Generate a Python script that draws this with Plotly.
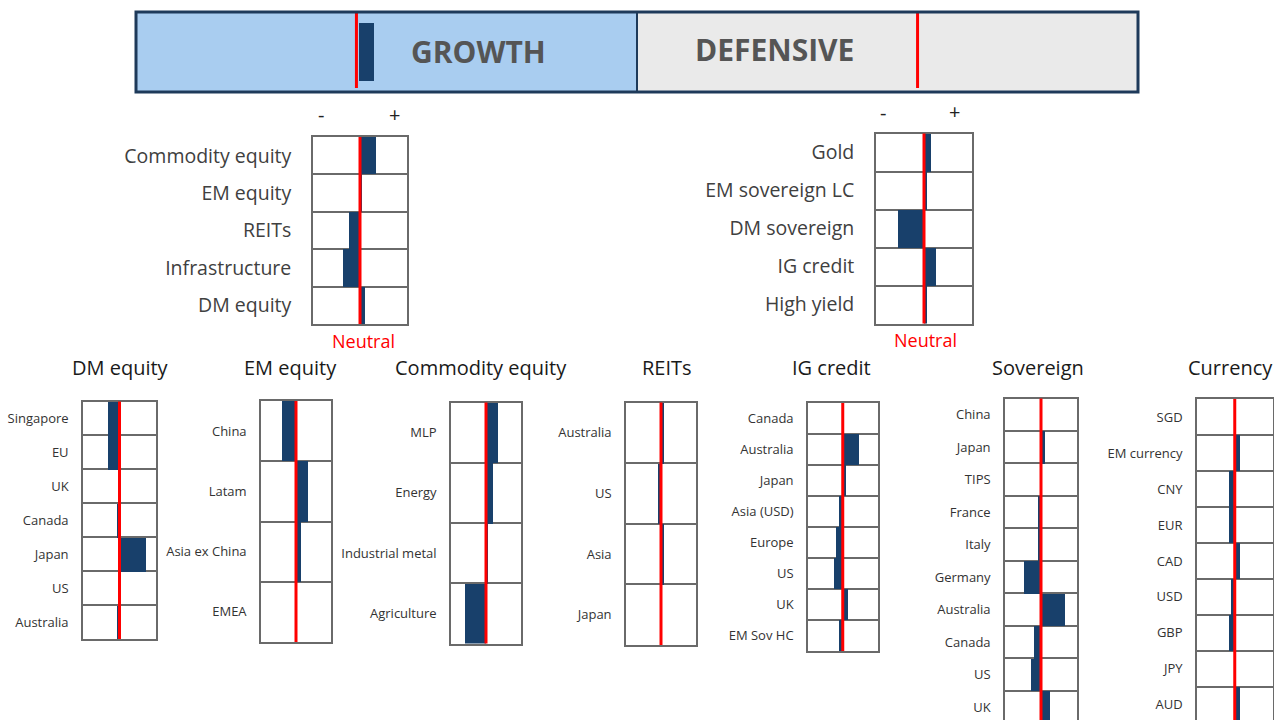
import plotly.graph_objects as go

W, H = 1274, 720

# ---------------- data ----------------
banner_sections = ["GROWTH", "DEFENSIVE"]
banner_neutral = [0.44, 1.56]          # neutral marker position in each half (0-1 growth, 1-2 defensive)
growth_tilt = 0.03                     # tilt of the growth bar in banner units

growth_cats = ["Commodity equity", "EM equity", "REITs", "Infrastructure", "DM equity"]
growth_vals = [0.33, 0.05, -0.23, -0.36, 0.11]

def_cats = ["Gold", "EM sovereign LC", "DM sovereign", "IG credit", "High yield"]
def_vals = [0.14, 0.07, -0.54, 0.26, 0.07]

dm_cats = ["Singapore", "EU", "UK", "Canada", "Japan", "US", "Australia"]
dm_vals = [-0.31, -0.31, 0.0, -0.07, 0.72, 0.0, -0.07]

em_cats = ["China", "Latam", "Asia ex China", "EMEA"]
em_vals = [-0.40, 0.34, 0.14, 0.0]

com_cats = ["MLP", "Energy", "Industrial metal", "Agriculture"]
com_vals = [0.33, 0.20, 0.07, -0.59]

reit_cats = ["Australia", "US", "Asia", "Japan"]
reit_vals = [0.09, -0.10, 0.09, 0.0]

ig_cats = ["Canada", "Australia", "Japan", "Asia (USD)", "Europe", "US", "UK", "EM Sov HC"]
ig_vals = [0.0, 0.48, 0.08, -0.11, -0.19, -0.24, 0.15, -0.11]

sov_cats = ["China", "Japan", "TIPS", "France", "Italy", "Germany", "Australia", "Canada", "US", "UK"]
sov_vals = [0.0, 0.11, 0.0, -0.08, -0.08, -0.46, 0.67, -0.20, -0.28, 0.25]

cur_cats = ["SGD", "EM currency", "CNY", "EUR", "CAD", "USD", "GBP", "JPY", "AUD"]
cur_vals = [0.0, 0.13, -0.15, -0.15, 0.13, -0.09, -0.15, 0.0, 0.13]

# ---------------- style ----------------
NAVY = "#18406B"
RED = "#FF0000"
GRID = "#6a6a6a"
FONT = "Open Sans"

fig = go.Figure()
layout = dict(width=W, height=H, margin=dict(l=0, r=0, t=0, b=0),
              paper_bgcolor="white", plot_bgcolor="white", showlegend=False,
              shapes=[], annotations=[], bargap=0)


def fx(p):
    return p / W


def fy(p):
    return 1 - p / H


# ---------------- banner ----------------
layout["xaxis"] = dict(domain=[fx(136), fx(1138)], range=[0, 2], visible=False, fixedrange=True)
layout["yaxis"] = dict(domain=[fy(92), fy(12)], range=[0, 1], visible=False, fixedrange=True)
bg = ["#A9CDF0", "#EAEAEA"]
for i, sec in enumerate(banner_sections):
    layout["shapes"].append(dict(type="rect", xref="x", yref="y", x0=i, x1=i + 1, y0=0, y1=1,
                                 fillcolor=bg[i], line=dict(width=0), layer="below"))
fig.add_trace(go.Bar(x=[growth_tilt], y=[0.5], base=[banner_neutral[0] + 0.006], orientation="h",
                     width=0.72, marker=dict(color=NAVY, line=dict(width=0)),
                     xaxis="x", yaxis="y", hoverinfo="skip"))
layout["shapes"].append(dict(type="line", xref="x", yref="y", x0=1, x1=1, y0=0, y1=1,
                             line=dict(color="#1E3A5A", width=2), layer="above"))
for nv in banner_neutral:
    layout["shapes"].append(dict(type="line", xref="x", yref="y", x0=nv, x1=nv, y0=0.05, y1=1,
                                 line=dict(color=RED, width=3), layer="above"))
layout["shapes"].append(dict(type="rect", xref="x domain", yref="y domain", x0=0, x1=1, y0=0, y1=1,
                             line=dict(color="#1E3A5A", width=3), layer="above"))
for txt, x, y in [("GROWTH", 478, 52), ("DEFENSIVE", 774, 50)]:
    layout["annotations"].append(dict(text=f"<b>{txt}</b>", x=fx(x), y=fy(y), xref="paper", yref="paper",
                                      xanchor="center", yanchor="middle", showarrow=False,
                                      font=dict(family=FONT, size=30, color="#555555")))

# ---------------- panels ----------------
# (cats, vals, x0, x1, y0, y1(px), row-range-end, fontsize, fontcolor, standoff, cut)
panels = [
    (growth_cats, growth_vals, 313, 407, 137, 324, None, 19.5, "#404040", 16, False),
    (def_cats, def_vals, 876, 972, 133.5, 323.5, None, 19.5, "#404040", 16, False),
    (dm_cats, dm_vals, 83, 156, 401.5, 639, None, 13, "#333333", 10, False),
    (em_cats, em_vals, 261, 331, 401, 642, None, 13, "#333333", 10, False),
    (com_cats, com_vals, 451, 521, 402.5, 643.5, None, 13, "#333333", 10, False),
    (reit_cats, reit_vals, 626, 696, 402.5, 645, None, 13, "#333333", 10, False),
    (ig_cats, ig_vals, 808, 877.5, 403, 651, None, 13, "#333333", 10, False),
    (sov_cats, sov_vals, 1005, 1077, 398.5, 720, 9.4, 13, "#333333", 10, True),
    (cur_cats, cur_vals, 1197, 1272.5, 399, 720, 8.42, 13, "#333333", 10, True),
]

for k, (cats, vals, x0, x1, y0, y1, rend, fs, fc, so, cut) in enumerate(panels, start=2):
    n = len(cats)
    top = n - 0.5 if rend is None else rend
    layout[f"xaxis{k}"] = dict(domain=[fx(x0), fx(x1)], range=[-1, 1], anchor=f"y{k}",
                               showticklabels=False, showgrid=False, zeroline=False, ticks="",
                               showline=True, mirror=(not cut), side=("top" if cut else "bottom"),
                               linecolor=GRID, linewidth=1.6, fixedrange=True)
    layout[f"yaxis{k}"] = dict(domain=[fy(y1), fy(y0)], range=[top, -0.5], anchor=f"x{k}",
                               tickmode="array", tickvals=list(range(n)), ticktext=cats,
                               ticks="", showgrid=False, zeroline=False,
                               showline=True, mirror=True, linecolor=GRID, linewidth=1.6,
                               ticklabelstandoff=so,
                               tickfont=dict(family=FONT, size=fs, color=fc),
                               minor=dict(tickmode="array", tickvals=[i + 0.5 for i in range(n - 1)],
                                          showgrid=True, gridcolor=GRID, gridwidth=1.6, ticks=""),
                               fixedrange=True)
    fig.add_trace(go.Bar(x=vals, y=list(range(n)), orientation="h", width=1,
                         marker=dict(color=NAVY, line=dict(width=0)),
                         xaxis=f"x{k}", yaxis=f"y{k}", hoverinfo="skip"))
    layout["shapes"].append(dict(type="line", xref=f"x{k}", yref=f"y{k} domain", x0=0, x1=0, y0=0, y1=1,
                                 line=dict(color=RED, width=3), layer="above"))

# ---------------- annotations ----------------
def ann(text, x, y, size, color, anchor="center"):
    layout["annotations"].append(dict(text=text, x=fx(x), y=fy(y), xref="paper", yref="paper",
                                      showarrow=False, xanchor=anchor, yanchor="middle",
                                      font=dict(family=FONT, size=size, color=color)))

ann("-", 321, 115, 20, "#222222")
ann("+", 395, 114, 20, "#222222")
ann("-", 883, 112, 20, "#222222")
ann("+", 954, 111, 20, "#222222")
ann("Neutral", 363, 341, 18, RED)
ann("Neutral", 925, 340, 18, RED)

titles = [("DM equity", 120), ("EM equity", 290), ("Commodity equity", 481), ("REITs", 667),
          ("IG credit", 832), ("Sovereign", 1038), ("Currency", 1230)]
for t, x in titles:
    ann(t, x, 367, 20, "#1a1a1a")

fig.update_layout(**layout)
fig.write_html("out.html")
